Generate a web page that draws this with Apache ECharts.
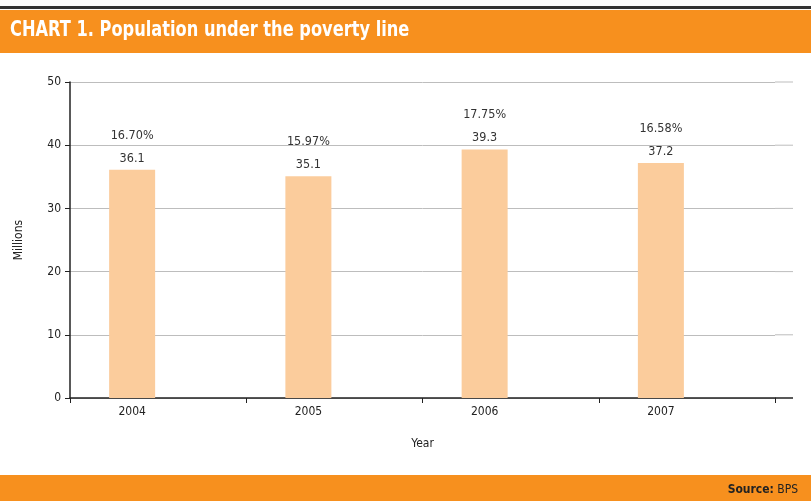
<!DOCTYPE html>
<html>
<head>
<meta charset="utf-8">
<script src="https://cdn.jsdelivr.net/npm/echarts@6/dist/echarts.min.js"></script>
<style>
html,body{margin:0;padding:0;background:#fff;}
#c{width:811px;height:501px;}
</style>
</head>
<body>
<div id="c"></div>
<script>
var years = ['2004', '2005', '2006', '2007'];
var millions = [36.1, 35.1, 39.3, 37.2];
var percents = ['16.70%', '15.97%', '17.75%', '16.58%'];
var yTicks = [0, 10, 20, 30, 40, 50];

var FONT = '"Liberation Sans Narrow", "DejaVu Sans Condensed", "Liberation Sans", sans-serif';
var chart = echarts.init(document.getElementById('c'));
var baseGraphic = [
  {type: 'rect', shape: {x: 0, y: 6, width: 811, height: 3}, style: {fill: '#333'}, z: -1},
  {type: 'rect', shape: {x: 0, y: 10, width: 811, height: 43}, style: {fill: '#F7901E'}, z: -1},
  {type: 'rect', shape: {x: 0, y: 475, width: 811, height: 26}, style: {fill: '#F7901E'}, z: -1},
  {type: 'text', x: 10, y: 19, scaleX: 0.82, style: {
    text: 'CHART 1. Population under the poverty line',
    fontFamily: FONT, fontSize: 22, fontWeight: 'bold', fill: '#fff'
  }},
  {type: 'text', right: 13, top: 484, style: {
    text: '{b|Source:} {n|BPS}',
    rich: {
      b: {fontFamily: FONT, fontSize: 12, fontWeight: 'bold', fill: '#222'},
      n: {fontFamily: FONT, fontSize: 12, fill: '#222'}
    }
  }}
];
chart.setOption({
  animation: false,
  textStyle: {fontFamily: FONT},
  graphic: baseGraphic,
  grid: {left: 70, right: 36, top: 82, bottom: 103},
  xAxis: {
    type: 'category',
    data: years,
    name: 'Year',
    nameLocation: 'middle',
    nameGap: 40,
    nameTextStyle: {color: '#222', fontSize: 12, fontFamily: FONT},
    axisLine: {lineStyle: {color: '#222', width: 1.5}},
    axisTick: {show: true, length: 5, lineStyle: {color: '#222'}},
    axisLabel: {color: '#222', fontSize: 12, margin: 8, padding: [0, 52, 0, 0], fontFamily: FONT},
    splitLine: {show: false}
  },
  yAxis: {
    type: 'value',
    min: 0, max: 50, interval: 10,
    name: 'Millions',
    nameLocation: 'middle',
    nameRotate: 90,
    nameGap: 45,
    nameTextStyle: {color: '#222', fontSize: 12, fontFamily: FONT},
    axisLine: {show: true, lineStyle: {color: '#222', width: 1.5}},
    axisTick: {show: true, length: 5, lineStyle: {color: '#222'}},
    axisLabel: {color: '#222', fontSize: 12, margin: 9, fontFamily: FONT,
      formatter: function (v) { return yTicks.indexOf(v) >= 0 ? String(v) : ''; }},
    splitLine: {show: true, lineStyle: {color: '#bdbdbd', width: 1}}
  },
  series: [
    {
      type: 'bar',
      data: millions,
      barWidth: 46,
      barGap: '13%',
      itemStyle: {color: '#FBCC9C'},
      label: {
        show: true,
        position: 'top',
        distance: 0,
        formatter: function (p) { return '{a|' + percents[p.dataIndex] + '}\n{b|' + p.value + '}'; },
        rich: {
          a: {color: '#333', fontSize: 12.5, lineHeight: 23, fontFamily: FONT},
          b: {color: '#333', fontSize: 12.5, lineHeight: 23, fontFamily: FONT}
        }
      }
    },
    {
      type: 'bar',
      data: ['-', '-', '-', '-'],
      barWidth: 46,
      barGap: '13%'
    }
  ]
});
// extend gridlines / axis line slightly past the plot's right edge, as in the reference
var ext = [];
var xRight = chart.getWidth() - 36;
yTicks.forEach(function (v) {
  var y = chart.convertToPixel({yAxisIndex: 0}, v);
  ext.push({type: 'line', shape: {x1: xRight, y1: y, x2: xRight + 18, y2: y},
    style: {stroke: v === 0 ? '#222' : '#bdbdbd', lineWidth: v === 0 ? 1.5 : 1}});
});
chart.setOption({graphic: baseGraphic.concat(ext)});
</script>
</body>
</html>
